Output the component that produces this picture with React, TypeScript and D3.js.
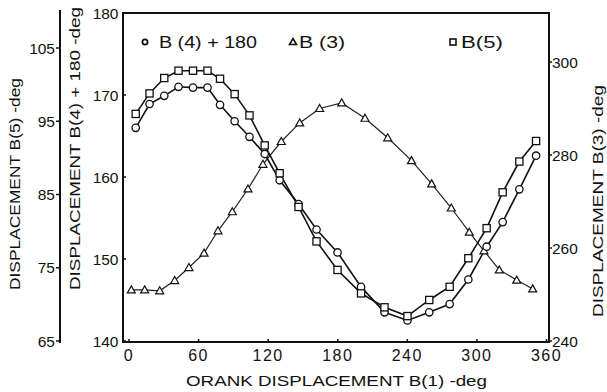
import React from 'react';
import * as d3 from 'd3';

// Crank angle (deg) for the B(4)+180 and B(5) series
const crankAngle = [5.8, 17.7, 30.4, 42.7, 55.2, 67.7, 78.5, 91.1, 103.9, 117.0, 129.9, 146.2, 161.7, 179.8, 200.1, 220.3, 240.1, 258.9, 276.5, 292.6, 308.4, 322.2, 336.6, 351.0];
const b4Plus180 = [166.0, 168.9, 169.9, 171.0, 170.9, 170.9, 168.8, 166.8, 164.9, 162.8, 159.6, 156.7, 153.6, 150.8, 146.6, 143.5, 142.5, 143.5, 144.5, 147.5, 151.5, 154.5, 158.5, 162.6];
const b5 = [96.0, 98.8, 100.9, 101.9, 101.9, 101.9, 100.8, 98.7, 95.8, 91.7, 87.9, 83.3, 78.6, 74.7, 71.5, 69.6, 68.4, 70.6, 72.4, 76.3, 80.4, 85.3, 89.5, 92.3];
// Crank angle (deg) for the B(3) series
const crankAngleB3 = [2.0, 13.5, 26.5, 39.4, 51.7, 64.7, 76.7, 89.1, 102.6, 115.5, 131.3, 147.2, 164.4, 183.4, 203.5, 223.1, 243.6, 261.0, 277.9, 293.4, 306.1, 319.3, 334.3, 348.1];
const b3 = [251.0, 251.0, 250.8, 253.0, 255.8, 258.9, 263.7, 267.8, 272.7, 278.0, 282.9, 286.9, 290.0, 291.2, 287.9, 283.7, 278.8, 273.8, 268.6, 263.4, 259.4, 255.3, 253.1, 251.2];

const xTicks = [0, 60, 120, 180, 240, 300, 360];
const b4Ticks = [140, 150, 160, 170, 180];
const b5Ticks = [65, 75, 85, 95, 105];
const b3Ticks = [240, 260, 280, 300];

const FONT = '"Liberation Sans", Arial, Helvetica, sans-serif';

const x = d3.scaleLinear().domain([0, 360]).range([129, 546.5]);
const yB4 = d3.scaleLinear().domain([140, 180]).range([341, 13]);
const yB5 = d3.scaleLinear().domain([65, 105]).range([341, 48]);
const yB3 = d3.scaleLinear().domain([240, 300]).range([341, 62]);

const FR = { left: 123, right: 549, top: 13, bottom: 342 };

function Circle({ cx, cy }: { cx: number; cy: number }) {
  return <circle cx={cx} cy={cy} r={3.7} fill="#fff" stroke="#111" strokeWidth={1.3} />;
}
function Square({ cx, cy }: { cx: number; cy: number }) {
  return <rect x={cx - 3.6} y={cy - 3.6} width={7.2} height={7.2} fill="#fff" stroke="#111" strokeWidth={1.3} />;
}
function Tri({ cx, cy }: { cx: number; cy: number }) {
  const p = `M${cx},${cy - 4}L${cx + 4},${cy + 3}L${cx - 4},${cy + 3}Z`;
  return <path d={p} fill="#fff" stroke="#111" strokeWidth={1.2} />;
}

export default function App() {
  const lineB4 = d3.line<number>().x((_, i) => x(crankAngle[i])).y((d) => yB4(d));
  const lineB5 = d3.line<number>().x((_, i) => x(crankAngle[i])).y((d) => yB5(d));
  const lineB3 = d3.line<number>().x((_, i) => x(crankAngleB3[i])).y((d) => yB3(d));

  return (
    <svg width={607} height={392} style={{ position: 'absolute', left: 0, top: 0, background: '#fff' }} fontFamily={FONT}>
      <rect x={0} y={0} width={607} height={392} fill="#fff" />
      {/* frame */}
      <rect x={FR.left} y={FR.top} width={FR.right - FR.left} height={FR.bottom - FR.top} fill="none" stroke="#111" strokeWidth={2} />

      {/* outer left axis B(5) */}
      <line x1={60} x2={60} y1={10} y2={343} stroke="#111" strokeWidth={2} />
      {b5Ticks.map((t) => (
        <g key={'b5' + t}>
          <line x1={56} x2={60} y1={yB5(t)} y2={yB5(t)} stroke="#111" strokeWidth={1.5} />
          <text x={55} y={yB5(t) + 5.5} fontSize={15.5} textAnchor="end" fill="#111">{t}</text>
        </g>
      ))}
      <text transform="translate(20,290) rotate(-90)" fontSize={15} fill="#111" textLength={212} lengthAdjust="spacingAndGlyphs">DISPLACEMENT B(5) -deg</text>

      {/* inner left axis B(4)+180 */}
      {b4Ticks.map((t) => (
        <g key={'b4' + t}>
          <line x1={FR.left} x2={FR.left + 3} y1={yB4(t)} y2={yB4(t)} stroke="#111" strokeWidth={1.5} />
          <text x={118.5} y={yB4(t) + 5.5} fontSize={15.5} textAnchor="end" fill="#111">{t}</text>
        </g>
      ))}
      <text transform="translate(80,290) rotate(-90)" fontSize={15} fill="#111" textLength={283} lengthAdjust="spacingAndGlyphs">DISPLACEMENT B(4) + 180 -deg</text>

      {/* right axis B(3) */}
      {b3Ticks.map((t) => (
        <g key={'b3' + t}>
          <line x1={FR.right} x2={FR.right + 3} y1={yB3(t)} y2={yB3(t)} stroke="#111" strokeWidth={1.5} />
          <text x={552} y={yB3(t) + 5.5} fontSize={15.5} textAnchor="start" fill="#111">{t}</text>
        </g>
      ))}
      <text transform="translate(603,317) rotate(-90)" fontSize={15} fill="#111" textLength={232} lengthAdjust="spacingAndGlyphs">DISPLACEMENT B(3) -deg</text>

      {/* x axis */}
      {xTicks.map((t) => (
        <g key={'x' + t}>
          <line x1={x(t)} x2={x(t)} y1={FR.bottom} y2={FR.bottom - 3} stroke="#111" strokeWidth={1.5} />
          <text x={x(t)} y={361} fontSize={16} textAnchor="middle" fill="#111" letterSpacing={1.5}>{t}</text>
        </g>
      ))}
      <text x={186} y={385.5} fontSize={15.5} fill="#111" textLength={301} lengthAdjust="spacingAndGlyphs">ORANK DISPLACEMENT B(1) -deg</text>

      {/* series lines */}
      <path d={lineB3(b3) || ''} fill="none" stroke="#222" strokeWidth={1.2} />
      <path d={lineB4(b4Plus180) || ''} fill="none" stroke="#111" strokeWidth={1.6} />
      <path d={lineB5(b5) || ''} fill="none" stroke="#111" strokeWidth={1.6} />

      {b3.map((v, i) => <Tri key={'t' + i} cx={x(crankAngleB3[i])} cy={yB3(v)} />)}
      {b4Plus180.map((v, i) => <Circle key={'c' + i} cx={x(crankAngle[i])} cy={yB4(v)} />)}
      {b5.map((v, i) => <Square key={'s' + i} cx={x(crankAngle[i])} cy={yB5(v)} />)}

      {/* legend */}
      <circle cx={145} cy={42} r={2.6} fill="#fff" stroke="#111" strokeWidth={1.8} />
      <text x={159} y={48} fontSize={16} fill="#111" textLength={98} lengthAdjust="spacingAndGlyphs">B (4) + 180</text>
      <path d="M293,38.5L296.5,44.5L289.5,44.5Z" fill="#fff" stroke="#111" strokeWidth={1.6} />
      <text x={299} y={48} fontSize={16} fill="#111" textLength={46} lengthAdjust="spacingAndGlyphs">B (3)</text>
      <rect x={450} y={39} width={6} height={6} fill="#fff" stroke="#111" strokeWidth={1.6} />
      <text x={461} y={48} fontSize={16} fill="#111" textLength={42} lengthAdjust="spacingAndGlyphs">B(5)</text>
    </svg>
  );
}
